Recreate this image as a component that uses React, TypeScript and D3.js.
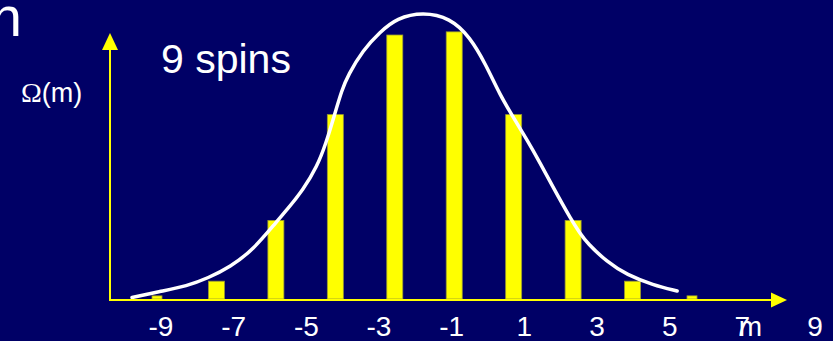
import React from 'react';
import * as d3 from 'd3';

// magnetic moment m of the 9-spin system and the bar heights
const moments = [-9, -7, -5, -3, -1, 1, 3, 5, 7, 9];
const omega = [1.5, 8.5, 37.5, 88, 126, 127.5, 88, 37.5, 8.5, 1.5];

// hand-drawn envelope, sampled along the white curve (m, Ω)
const curveM = [
  -9.84, -8.9, -7.99, -7.28, -6.54, -5.77, -4.96, -4.63, -4.09, -3.62, -3.31, -3.04, -2.78, -2.57,
  -2.07, -1.5, -0.93, -0.05, 0.86, 1.53, 2.07, 2.54, 2.98, 3.45, 3.89, 4.32, 4.96, 5.23, 5.47,
  6.14, 6.81, 7.69, 8.5,
];
const curveOmega = [
  0.7, 3.6, 6.2, 10, 15.3, 23.4, 37.2, 42.5, 52, 63, 74.5, 87.3, 99.8, 106.9,
  118.8, 127.4, 134.1, 137, 134.1, 125.1, 111.7, 97.4, 86.9, 75.9, 64.9, 53.5, 37.2, 31.5, 26.7,
  17.7, 11.5, 6.7, 3.8,
];

// x-axis tick labels (the text box is not aligned with the bars)
const tickValues = [-9, -7, -5, -3, -1, 1, 3, 5, 7, 9];

const W = 833;
const H = 341;
const BG = '#000066';
const YELLOW = '#ffff00';
const SANS = '"Liberation Sans", Arial, sans-serif';

const App = () => {
  const x = d3.scaleLinear().domain([-9, 9]).range([157, 692]);
  const y = d3.scaleLinear().domain([0, 126]).range([299, 35]);
  const labelX = d3.scaleLinear().domain([-9, 9]).range([161, 815]);

  const originX = 110;
  const baseY = 300;
  // the two outermost bars are drawn thinner on the slide
  const barW = (m: number) => (Math.abs(m) === 9 ? 10 : 16);

  const pts: [number, number][] = curveM.map((m, i) => [m, curveOmega[i]]);
  const line = d3
    .line<[number, number]>()
    .x((d) => x(d[0]))
    .y((d) => y(d[1]))
    .curve(d3.curveBasis);

  // keep the ends where they were drawn
  const path = line([pts[0], ...pts, pts[pts.length - 1]]) ?? '';

  return (
    <div style={{ position: 'fixed', left: 0, top: 0, width: W, height: H }}>
      <svg width={W} height={H} style={{ display: 'block' }}>
        <rect width={W} height={H} fill={BG} />

        {/* cut-off title */}
        <text x={22} y={36} fontFamily={SANS} fontSize={56} fill="#fff" textAnchor="end">
          n
        </text>

        {/* bars */}
        {moments.map((m, i) => (
          <rect
            key={m}
            x={x(m) - barW(m) / 2}
            y={y(omega[i])}
            width={barW(m)}
            height={y(0) - y(omega[i])}
            fill={YELLOW}
            stroke="#9a9a30"
            strokeWidth={0.8}
          />
        ))}

        {/* envelope */}
        <path d={path} fill="none" stroke="#fff" strokeWidth={3.5} strokeLinecap="round" />

        {/* axes */}
        <line x1={originX} y1={48} x2={originX} y2={baseY + 1} stroke={YELLOW} strokeWidth={2} />
        <path d={`M${originX},33 L${originX - 8},50 L${originX + 8},50 Z`} fill={YELLOW} />
        <line x1={originX} y1={baseY} x2={773} y2={baseY} stroke={YELLOW} strokeWidth={2} />
        <path d={`M787,${baseY} L771,${baseY - 7.5} L771,${baseY + 7.5} Z`} fill={YELLOW} />

        {/* tick labels */}
        {tickValues.map((v) => (
          <text
            key={v}
            x={labelX(v)}
            y={336}
            fontFamily={SANS}
            fontSize={28}
            fill="#fff"
            textAnchor="middle"
          >
            {String(v)}
          </text>
        ))}
        <text x={750.5} y={336} fontFamily={SANS} fontSize={28} fill="#fff" textAnchor="middle">
          m
        </text>

        {/* annotations */}
        <text x={161} y={73} fontFamily={SANS} fontSize={41} fill="#fff">
          9 spins
        </text>
        <text x={21} y={101.5} fill="#fff">
          <tspan fontFamily='"Liberation Serif", "Times New Roman", serif' fontSize={28}>
            Ω
          </tspan>
          <tspan fontFamily={SANS} fontSize={27}>
            (m)
          </tspan>
        </text>
      </svg>
    </div>
  );
};

export default App;
